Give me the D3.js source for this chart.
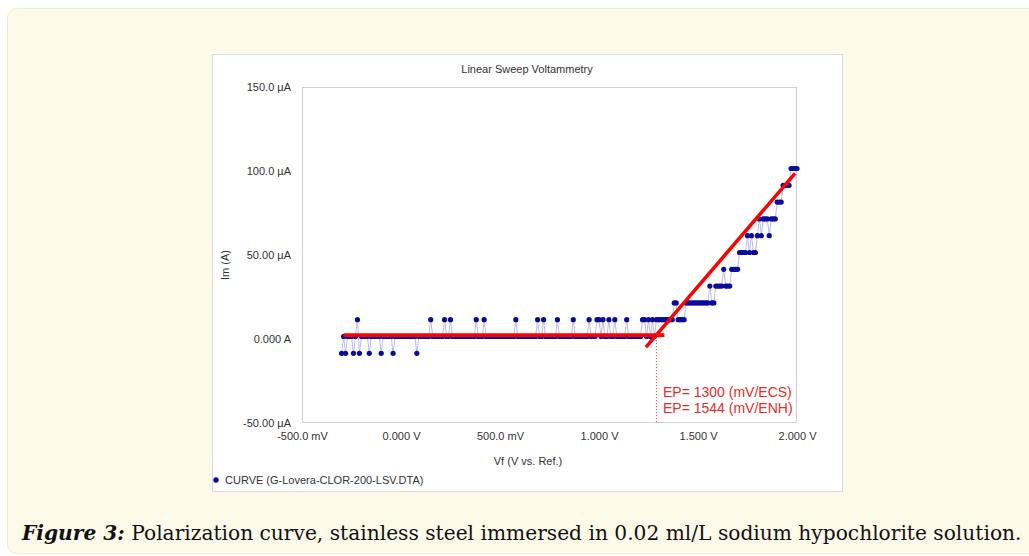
<!DOCTYPE html>
<html>
<head>
<meta charset="utf-8">
<script src="https://cdn.jsdelivr.net/npm/d3@7"></script>
<style>
body { margin: 0; background: #fff; }
svg text { font-family: "Liberation Sans", Arial, Helvetica, sans-serif; }
</style>
</head>
<body>
<svg id="chart_svg" width="1029" height="556"></svg>
<script>
// sweep: potential (V vs. Ref.) and current (uA)
var g_potential = [
    -0.30, -0.29, -0.28, -0.27, -0.26, -0.25, -0.24, -0.23, -0.22, -0.21,
    -0.20, -0.19, -0.18, -0.17, -0.16, -0.15, -0.14, -0.13, -0.12, -0.11,
    -0.10, -0.09, -0.08, -0.07, -0.06, -0.05, -0.04, -0.03, -0.02, -0.01,
    0.00, 0.01, 0.02, 0.03, 0.04, 0.05, 0.06, 0.07, 0.08, 0.09,
    0.10, 0.11, 0.12, 0.13, 0.14, 0.15, 0.16, 0.17, 0.18, 0.19,
    0.20, 0.21, 0.22, 0.23, 0.24, 0.25, 0.26, 0.27, 0.28, 0.29,
    0.30, 0.31, 0.32, 0.33, 0.34, 0.35, 0.36, 0.37, 0.38, 0.39,
    0.40, 0.41, 0.42, 0.43, 0.44, 0.45, 0.46, 0.47, 0.48, 0.49,
    0.50, 0.51, 0.52, 0.53, 0.54, 0.55, 0.56, 0.57, 0.58, 0.59,
    0.60, 0.61, 0.62, 0.63, 0.64, 0.65, 0.66, 0.67, 0.68, 0.69,
    0.70, 0.71, 0.72, 0.73, 0.74, 0.75, 0.76, 0.77, 0.78, 0.79,
    0.80, 0.81, 0.82, 0.83, 0.84, 0.85, 0.86, 0.87, 0.88, 0.89,
    0.90, 0.91, 0.92, 0.93, 0.94, 0.95, 0.96, 0.97, 0.98, 0.99,
    1.00, 1.01, 1.02, 1.03, 1.04, 1.05, 1.06, 1.07, 1.08, 1.09,
    1.10, 1.11, 1.12, 1.13, 1.14, 1.15, 1.16, 1.17, 1.18, 1.19,
    1.20, 1.21, 1.22, 1.23, 1.24, 1.25, 1.26, 1.27, 1.28, 1.29,
    1.30, 1.31, 1.32, 1.33, 1.34, 1.35, 1.36, 1.37, 1.38, 1.39,
    1.40, 1.41, 1.42, 1.43, 1.44, 1.45, 1.46, 1.47, 1.48, 1.49,
    1.50, 1.51, 1.52, 1.53, 1.54, 1.55, 1.56, 1.57, 1.58, 1.59,
    1.60, 1.61, 1.62, 1.63, 1.64, 1.65, 1.66, 1.67, 1.68, 1.69,
    1.70, 1.71, 1.72, 1.73, 1.74, 1.75, 1.76, 1.77, 1.78, 1.79,
    1.80, 1.81, 1.82, 1.83, 1.84, 1.85, 1.86, 1.87, 1.88, 1.89,
    1.90, 1.91, 1.92, 1.93, 1.94, 1.95, 1.96, 1.97, 1.98, 1.99,
    2.00
];
var g_current = [
    -8.5, 1.5, -8.5, 1.5, 1.5, 1.5, -8.5, 1.5, 11.5, -8.5,
    1.5, 1.5, 1.5, 1.5, -8.5, 1.5, 1.5, 1.5, 1.5, 1.5,
    -8.5, 1.5, 1.5, 1.5, 1.5, 1.5, -8.5, 1.5, 1.5, 1.5,
    1.5, 1.5, 1.5, 1.5, 1.5, 1.5, 1.5, 1.5, -8.5, 1.5,
    1.5, 1.5, 1.5, 1.5, 1.5, 11.5, 1.5, 1.5, 1.5, 1.5,
    1.5, 1.5, 11.5, 1.5, 1.5, 11.5, 1.5, 1.5, 1.5, 1.5,
    1.5, 1.5, 1.5, 1.5, 1.5, 1.5, 1.5, 1.5, 11.5, 1.5,
    1.5, 1.5, 11.5, 1.5, 1.5, 1.5, 1.5, 1.5, 1.5, 1.5,
    1.5, 1.5, 1.5, 1.5, 1.5, 1.5, 1.5, 1.5, 11.5, 1.5,
    1.5, 1.5, 1.5, 1.5, 1.5, 1.5, 1.5, 1.5, 1.5, 11.5,
    1.5, 1.5, 11.5, 1.5, 1.5, 1.5, 1.5, 1.5, 1.5, 11.5,
    1.5, 1.5, 1.5, 1.5, 1.5, 1.5, 1.5, 11.5, 1.5, 1.5,
    1.5, 1.5, 1.5, 1.5, 1.5, 11.5, 1.5, 1.5, 1.5, 11.5,
    11.5, 1.5, 11.5, 1.5, 1.5, 11.5, 1.5, 1.5, 11.5, 1.5,
    1.5, 1.5, 1.5, 1.5, 11.5, 1.5, 1.5, 1.5, 1.5, 1.5,
    1.5, 1.5, 11.5, 11.5, 1.5, 11.5, 1.5, 11.5, 1.5, 11.5,
    11.5, 11.5, 11.5, 11.5, 11.5, 11.5, 11.5, 11.5, 21.5, 21.5,
    11.5, 11.5, 11.5, 11.5, 21.5, 21.5, 21.5, 21.5, 21.5, 21.5,
    21.5, 21.5, 21.5, 21.5, 21.5, 21.5, 31.5, 21.5, 21.5, 31.5,
    31.5, 31.5, 31.5, 41.5, 31.5, 31.5, 31.5, 41.5, 41.5, 41.5,
    41.5, 51.5, 51.5, 51.5, 51.5, 61.5, 51.5, 61.5, 51.5, 51.5,
    61.5, 71.5, 61.5, 71.5, 71.5, 71.5, 61.5, 71.5, 71.5, 71.5,
    81.5, 81.5, 81.5, 91.5, 91.5, 91.5, 91.5, 101.5, 101.5, 101.5,
    101.5
];

// red fit lines and pitting potential marker
var g_base_fit_v = [-0.29, 1.33];
var g_base_fit_i = [2.3, 2.3];
var g_slope_fit_v = [1.237, 1.99];
var g_slope_fit_i = [-4.8, 98.6];
var g_ep_v = 1.29;
var g_ep_labels = ["EP= 1300 (mV/ECS)", "EP= 1544 (mV/ENH)"];

// axes
var g_x_ticks = [-0.5, 0, 0.5, 1.0, 1.5, 2.0];
var g_x_tick_labels = ["-500.0 mV", "0.000 V", "500.0 mV", "1.000 V", "1.500 V", "2.000 V"];
var g_y_ticks = [-50, 0, 50, 100, 150];
var g_y_tick_labels = ["-50.00 µA", "0.000 A", "50.00 µA", "100.0 µA", "150.0 µA"];

var g_svg, g_x, g_y;

draw_frame();
draw_axes();
draw_curve();
draw_fit();
draw_caption();

function draw_frame() {
    g_svg = d3.select("#chart_svg");
    // cream figure box
    g_svg.append("rect").attr("x", 7.5).attr("y", 8.5).attr("width", 1040).attr("height", 545)
        .attr("rx", 9).attr("style", "fill:#fefaea; stroke:#efebd9");
    // white chart panel
    g_svg.append("rect").attr("x", 212.5).attr("y", 54.5).attr("width", 630).attr("height", 437)
        .attr("style", "fill:#fff; stroke:#dcdcdc");

    g_x = d3.scaleLinear().domain([-0.5, 2.0]).range([302, 797]);
    g_y = d3.scaleLinear().domain([-50, 150]).range([423, 87]);

    g_svg.append("rect").attr("x", 302.5).attr("y", 87.5).attr("width", 494).attr("height", 335)
        .attr("style", "fill:#fff; stroke:#cfcfcf");

    g_svg.append("text").attr("x", 527).attr("y", 73).attr("text-anchor", "middle")
        .attr("font-size", 11).attr("fill", "#333").text("Linear Sweep Voltammetry");
    g_svg.append("text").attr("x", 528).attr("y", 465).attr("text-anchor", "middle")
        .attr("font-size", 11).attr("fill", "#333").text("Vf (V vs. Ref.)");
    g_svg.append("text").attr("transform", "translate(229, 265) rotate(-90)").attr("text-anchor", "middle")
        .attr("font-size", 11).attr("fill", "#333").text("Im (A)");

    // legend
    g_svg.append("circle").attr("cx", 216).attr("cy", 480).attr("r", 2.7).attr("fill", "#0a0a9c");
    g_svg.append("text").attr("x", 225).attr("y", 484).attr("font-size", 11).attr("fill", "#333")
        .text("CURVE (G-Lovera-CLOR-200-LSV.DTA)");
}

function draw_axes() {
    var x_minor = d3.range(-5, 21).map(d => d / 10);
    var y_minor = d3.range(-50, 151, 10);

    var gx = g_svg.append("g").attr("transform", "translate(0, 423)");
    gx.call(d3.axisBottom(g_x).tickValues(x_minor).tickSize(4).tickFormat(""));
    gx.call(d3.axisBottom(g_x).tickValues(g_x_ticks).tickSize(0).tickPadding(9)
        .tickFormat((d, i) => g_x_tick_labels[i]));

    var gy = g_svg.append("g").attr("transform", "translate(302, 0)");
    gy.call(d3.axisLeft(g_y).tickValues(y_minor).tickSize(4).tickFormat(""));
    gy.call(d3.axisLeft(g_y).tickValues(g_y_ticks).tickSize(0).tickPadding(11)
        .tickFormat((d, i) => g_y_tick_labels[i]));

    g_svg.selectAll(".domain").remove();
    g_svg.selectAll(".tick line").attr("stroke", "#c8c8c8");
    g_svg.selectAll(".tick text").attr("font-size", 11).attr("fill", "#333")
        .attr("font-family", "Liberation Sans, Arial, sans-serif");
}

function draw_curve() {
    var pts = g_potential.map((v, i) => [v, g_current[i]]);
    var line = d3.line().x(d => g_x(d[0])).y(d => g_y(d[1]));
    g_svg.append("path").datum(pts).attr("d", line)
        .attr("style", "fill:none; stroke:#bcbcec; stroke-width:1");
    g_svg.selectAll(".pt").data(pts).join("circle").classed("pt", true)
        .attr("cx", d => g_x(d[0])).attr("cy", d => g_y(d[1])).attr("r", 2.6)
        .attr("fill", "#0a0a9c");
}

function draw_fit() {
    // dotted marker at EP
    g_svg.append("line")
        .attr("x1", g_x(g_ep_v)).attr("y1", g_y(g_base_fit_i[0]) + 2)
        .attr("x2", g_x(g_ep_v)).attr("y2", g_y(-50))
        .attr("stroke-dasharray", "1 2") // dotted
        .attr("style", "stroke:#e53030; stroke-width:1");

    g_svg.append("line")
        .attr("x1", g_x(g_base_fit_v[0])).attr("y1", g_y(g_base_fit_i[0]))
        .attr("x2", g_x(g_base_fit_v[1])).attr("y2", g_y(g_base_fit_i[1]))
        .attr("style", "stroke:#ff0000; stroke-width:3.8");
    g_svg.append("line")
        .attr("x1", g_x(g_slope_fit_v[0])).attr("y1", g_y(g_slope_fit_i[0]))
        .attr("x2", g_x(g_slope_fit_v[1])).attr("y2", g_y(g_slope_fit_i[1]))
        .attr("style", "stroke:#ff0000; stroke-width:3.5");

    g_svg.selectAll(".ep_label").data(g_ep_labels).join("text").classed("ep_label", true)
        .attr("x", 663).attr("y", (d, i) => 397 + i * 16)
        .attr("font-size", 14).attr("fill", "#ea2a2a").text(d => d);
}

function draw_caption() {
    var cap = g_svg.append("text").attr("x", 22).attr("y", 540)
        .attr("font-size", 17).attr("fill", "#111")
        .attr("style", "font-family:'DejaVu Serif', 'Liberation Serif', serif");
    cap.append("tspan").attr("font-weight", "bold").attr("font-style", "italic").text("Figure 3:");
    cap.append("tspan").text(" Polarization curve, stainless steel immersed in 0.02 ml/L sodium hypochlorite solution.");
    // fit the caption to the width it takes in the figure
    var w = cap.node().getComputedTextLength();
    cap.attr("font-size", 17 * 1000 / w);
}
</script>
</body>
</html>
